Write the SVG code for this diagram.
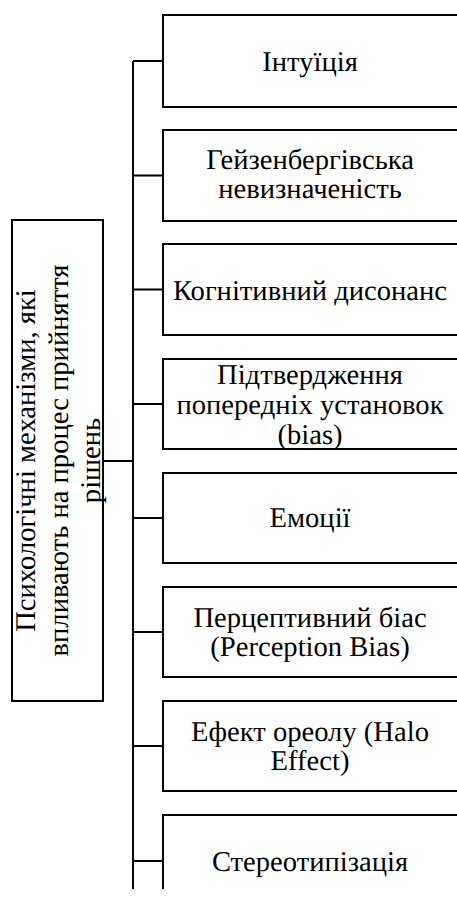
<svg xmlns="http://www.w3.org/2000/svg" width="457" height="899" viewBox="0 0 457 899">
<style>
.box{fill:#fff;stroke:#000;stroke-width:2}
.conn{fill:none;stroke:#000;stroke-width:2}
text{font-family:"Liberation Serif","Times New Roman",serif;font-size:28.6px;fill:#000;text-anchor:middle;text-rendering:geometricPrecision}
</style>
<rect width="457" height="899" fill="#fff"/>
<g id="connectors">
<path class="conn" d="M133,61 V889"/>
<path class="conn" d="M103,461 H133" stroke-width="3"/>
<path class="conn" d="M133,61 H163 M133,175.5 H163 M133,289.5 H163 M133,404 H163 M133,518 H163 M133,632 H163 M133,746 H163 M133,861 H163"/>
</g>
<g id="root">
<rect class="box" x="12" y="220" width="91" height="481"/>
<text transform="translate(35,460.5) rotate(-90)">Психологічні механізми, які</text>
<text transform="translate(67.5,460.5) rotate(-90)">впливають на процес прийняття</text>
<text transform="translate(100,460.5) rotate(-90)">рішень</text>
</g>
<g id="n1">
<rect class="box" x="163" y="15" width="320" height="92"/>
<text x="310" y="71">Інтуїція</text>
</g>
<g id="n2">
<rect class="box" x="163" y="130" width="320" height="91"/>
<text x="310" y="168.5">Гейзенбергівська</text>
<text x="310" y="197.5">невизначеність</text>
</g>
<g id="n3">
<rect class="box" x="163" y="244" width="320" height="91"/>
<text x="310" y="300">Когнітивний дисонанс</text>
</g>
<g id="n4">
<rect class="box" x="163" y="359" width="320" height="90"/>
<text x="310" y="383.5">Підтвердження</text>
<text x="310" y="414">попередніх установок</text>
<text x="310" y="444">(bias)</text>
</g>
<g id="n5">
<rect class="box" x="163" y="473" width="320" height="90"/>
<text x="310" y="527">Емоції</text>
</g>
<g id="n6">
<rect class="box" x="163" y="587" width="320" height="90"/>
<text x="310" y="627">Перцептивний біас</text>
<text x="310" y="656">(Perception Bias)</text>
</g>
<g id="n7">
<rect class="box" x="163" y="701" width="320" height="90"/>
<text x="310" y="741">Ефект ореолу (Halo</text>
<text x="310" y="770">Effect)</text>
</g>
<g id="n8">
<path class="conn" d="M163,889 V815 H483"/>
<text x="310" y="871">Стереотипізація</text>
</g>
</svg>
